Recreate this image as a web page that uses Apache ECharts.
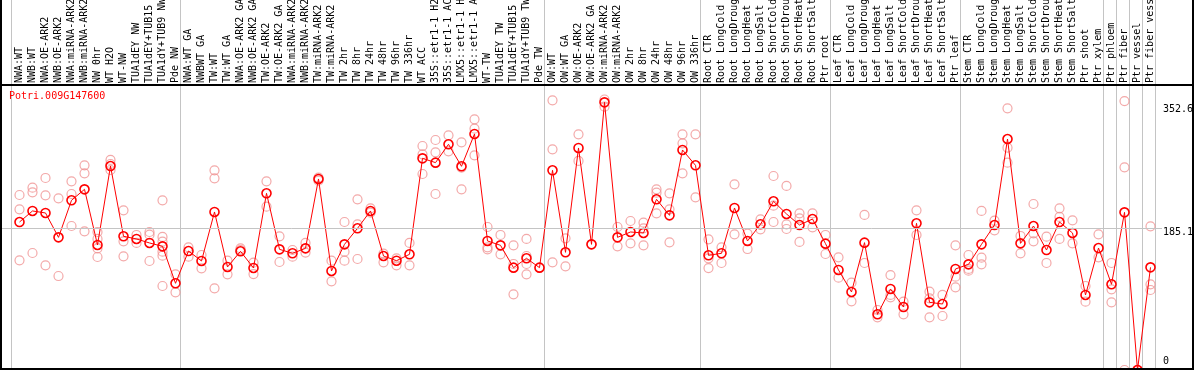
<!DOCTYPE html>
<html><head><meta charset="utf-8">
<script src="https://cdn.jsdelivr.net/npm/echarts@6/dist/echarts.min.js"></script>
<style>html,body{margin:0;padding:0;background:#fff}#c{width:1194px;height:370px}</style>
</head><body><div id="c"></div>
<script>
const geneName = 'Potri.009G147600';

const categories = [
  'NWA:WT','NWB:WT','NWA:OE-ARK2','NWB:OE-ARK2','NWA:miRNA-ARK2','NWB:miRNA-ARK2','NW 0hr','WT H2O','WT-NW','TUA1dEY NW','TUA1dEY+TUB15 NW','TUA1dY+TUB9 NW','Pde NW',
  'NWA:WT GA','NWBWT GA','TW:WT','TW:WT GA','NWA:OE-ARK2 GA','NWB:OE-ARK2 GA','TW:OE-ARK2','TW:OE-ARK2 GA','NWA:miRNA-ARK2 GA','NWB:miRNA-ARK2 GA','TW:miRNA-ARK2','TW:miRNA-ARK2 GA','TW 2hr','TW 8hr','TW 24hr','TW 48hr','TW 96hr','TW 336hr','WT ACC','35S::etr1-1 H2O','35S::etr1-1 ACC','LMX5::etr1-1 H2O','LMX5::etr1-1 ACC','WT-TW','TUA1dEY TW','TUA1dEY+TUB15 TW','TUA1dY+TUB9 TW','Pde TW',
  'OW:WT','OW:WT GA','OW:OE-ARK2','OW:OE-ARK2 GA','OW:miRNA-ARK2','OW:miRNA-ARK2 GA','OW 2hr','OW 8hr','OW 24hr','OW 48hr','OW 96hr','OW 336hr',
  'Root CTR','Root LongCold','Root LongDrought','Root LongHeat','Root LongSalt','Root ShortCold','Root ShortDrought','Root ShortHeat','Root ShortSalt','Ptr root',
  'Leaf CTR','Leaf LongCold','Leaf LongDrought','Leaf LongHeat','Leaf LongSalt','Leaf ShortCold','Leaf ShortDrought','Leaf ShortHeat','Leaf ShortSalt','Ptr leaf',
  'Stem CTR','Stem LongCold','Stem LongDrought','Stem LongHeat','Stem LongSalt','Stem ShortCold','Stem ShortDrought','Stem ShortHeat','Stem ShortSalt','Ptr shoot','Ptr xylem',
  'Ptr phloem','Ptr fiber','Ptr vessel','Ptr fiber vessel'
];

// first category index of each sample group (separator lines)
const groupStarts = [0, 13, 41, 53, 63, 73, 84, 85, 86, 87];

const means = [
  192.9, 207.3, 204.7, 172.9, 221.2, 235.5, 163.0, 265.9, 174.3, 170.8, 165.6, 161.2, 113.0,
  155.1, 142.1, 206.0, 134.3, 154.7, 133.0, 230.3, 157.3, 152.1, 158.6, 249.0, 129.1, 163.8, 184.7, 207.3, 148.6, 142.5, 150.8, 275.9, 270.3, 294.2, 265.5, 307.7, 168.2, 162.5, 133.4, 145.6, 133.4,
  260.3, 153.4, 289.4, 163.8, 348.9, 172.9, 179.9, 178.6, 222.5, 201.6, 286.8, 266.8,
  149.5, 152.1, 211.2, 168.2, 189.9, 219.9, 203.4, 189.0, 196.8, 164.7,
  130.4, 101.7, 166.0, 72.6, 105.6, 82.1, 191.2, 88.2, 86.0, 131.7,
  137.7, 163.8, 189.0, 301.1, 165.1, 187.7, 156.4, 192.9, 178.6, 97.8, 159.0,
  111.7, 205.5, 0, 133.8
];

const replicates = [
  [228.1, 209.4, 143.0], [237.7, 231.6, 152.5], [250.3, 227.7, 136.4], [223.8, 122.5], [245.9, 229.4, 187.7],
  [266.8, 256.4, 180.8], [179.9, 170.8, 158.6, 147.3], [273.8, 268.5, 260.7], [208.1, 167.7, 148.2], [176.0, 165.6],
  [179.9, 176.4, 142.1], [221.2, 173.4, 167.3, 154.3, 149.0, 109.5], [124.7, 101.2],
  [159.9, 147.7], [149.9, 132.5], [260.3, 249.9, 106.5], [142.5, 124.7], [158.6, 156.4], [139.9, 125.1],
  [245.9, 212.9], [174.3, 140.8], [156.4, 147.7], [165.6, 153.0], [250.7, 246.8], [142.5, 115.6],
  [192.9, 154.3, 142.5], [222.5, 189.9, 144.7], [210.8, 205.1], [151.7, 140.4], [145.6, 136.4], [165.6, 136.4],
  [292.0, 281.1, 255.5], [299.8, 283.8, 229.4], [305.9, 285.1], [296.8, 263.8, 235.5], [326.8, 314.6, 279.8],
  [186.4, 159.9, 157.3], [176.0, 150.8], [162.5, 138.2, 98.6], [170.8, 148.6, 138.2, 124.7], [133.4],
  [351.5, 287.7, 140.4], [171.6, 135.1], [307.2, 272.5], [163.8], [352.6, 343.3], [186.4, 161.2],
  [194.2, 165.1], [192.1, 184.7, 162.5], [235.5, 231.2, 204.2], [230.3, 209.4, 166.4], [307.2, 295.5, 256.4], [307.2, 225.1],
  [170.3, 145.6, 132.9], [159.9, 139.5], [242.0, 176.9], [177.7, 157.7], [196.4, 183.4],
  [252.9, 214.2, 192.9], [239.9, 189.9, 183.8], [204.2, 197.7, 166.9], [204.2, 186.0], [176.0, 151.2],
  [146.9, 120.4], [113.8, 89.5], [202.1, 139.5], [78.2, 68.7], [123.8, 97.8, 94.7],
  [89.1, 72.6], [208.1, 176.0], [102.1, 93.4, 68.7], [97.8, 70.4], [162.5, 121.7, 107.8],
  [149.9, 131.7, 129.5], [207.3, 146.4, 137.7], [194.7, 182.1], [341.1, 289.8, 270.3], [174.7, 152.1],
  [216.4, 178.2, 167.7], [173.8, 139.5], [210.8, 199.5, 170.8], [195.1, 165.1], [109.5, 89.1], [176.9, 146.9],
  [139.5, 105.2, 88.2], [350.5, 264.2, 0], [0, 0, 0], [187.3, 111.7, 104.3]
];

const yTickValues = [0, 185.1, 352.6];
const yTickLabels = ['0', '185.1', '352.6'];
const yMin = 0, yMax = 371.5;

const FONT = 'DejaVu Sans Mono';
const RED = '#ff0000';
const PINK = '#f09494';
const GRAY = '#c4c4c4';

const repData = [];
replicates.forEach((arr, i) => arr.forEach(v => repData.push([i, v])));

const chart = echarts.init(document.getElementById('c'), null, {renderer: 'canvas'});
chart.setOption({
  animation: false,
  backgroundColor: '#fff',
  title: {
    text: geneName, left: 9, top: 91, padding: 0, z: 20,
    textStyle: {fontFamily: FONT, fontSize: 10, fontWeight: 'normal', color: RED}
  },
  grid: [
    {left: 11, width: 1144, top: 0, bottom: 0, containLabel: false, outerBoundsMode: 'none'},
    {left: 13, width: 1144, top: 85, height: 285, containLabel: false, outerBoundsMode: 'none'},
    {left: 1, right: 32, top: 85, height: 285, containLabel: false, outerBoundsMode: 'none'}
  ],
  xAxis: [
    {
      gridIndex: 0, type: 'category', data: categories, boundaryGap: true,
      axisLine: {show: false}, axisTick: {show: false}, axisLabel: {show: false},
      splitLine: {show: true, interval: (idx) => groupStarts.indexOf(idx) >= 0,
                  lineStyle: {color: GRAY, width: 1}}
    },
    {
      gridIndex: 1, type: 'category', data: categories, boundaryGap: true, position: 'top',
      axisLine: {show: false}, axisTick: {show: false}, splitLine: {show: false},
      axisLabel: {interval: 0, rotate: 90, margin: 2, fontFamily: FONT, fontSize: 10, color: '#000', hideOverlap: false}
    },
    {gridIndex: 2, type: 'value', min: 0, max: 1, show: false}
  ],
  yAxis: [
    {gridIndex: 0, type: 'value', show: false},
    {gridIndex: 1, type: 'value', min: yMin, max: yMax, show: false},
    {
      gridIndex: 2, type: 'value', min: yMin, max: yMax, position: 'right',
      axisLine: {show: false}, splitLine: {show: false},
      axisTick: {show: false, customValues: yTickValues},
      axisLabel: {
        customValues: yTickValues, margin: 1, fontFamily: FONT, fontSize: 10, color: '#000',
        verticalAlign: 'middle', showMinLabel: true, showMaxLabel: true,
        formatter: (v) => {
          const k = yTickValues.findIndex(t => Math.abs(t - v) < 1e-6);
          return '{t' + k + '|' + yTickLabels[k] + '}';
        },
        rich: {
          t0: {fontFamily: FONT, fontSize: 10, color: '#000', padding: [0, 0, 17, 0]},
          t1: {fontFamily: FONT, fontSize: 10, color: '#000', padding: [9, 0, 0, 0]},
          t2: {fontFamily: FONT, fontSize: 10, color: '#000', padding: [20, 0, 0, 0]}
        }
      }
    }
  ],
  series: [
    {
      type: 'scatter', xAxisIndex: 2, yAxisIndex: 2, data: [], silent: true,
      markLine: {
        silent: true, symbol: ['none', 'none'], label: {show: false},
        lineStyle: {color: GRAY, type: 'solid', width: 1},
        data: [{yAxis: yTickValues[1]}]
      }
    },
    {
      type: 'scatter', xAxisIndex: 1, yAxisIndex: 1, data: repData, z: 3,
      symbol: 'circle', symbolSize: 9,
      itemStyle: {color: 'rgba(0,0,0,0)', borderColor: PINK, borderWidth: 1.2}
    },
    {
      type: 'line', xAxisIndex: 1, yAxisIndex: 1, data: means, z: 4,
      showAllSymbol: true, symbol: 'circle', symbolSize: 9,
      lineStyle: {color: RED, width: 1},
      itemStyle: {color: 'rgba(0,0,0,0)', borderColor: RED, borderWidth: 1.6}
    }
  ],
  graphic: [
    {type: 'line', shape: {x1: 0, y1: 85, x2: 1194, y2: 85}, style: {stroke: '#000', lineWidth: 2}, z: 10},
    {type: 'line', shape: {x1: 1, y1: 0, x2: 1, y2: 370}, style: {stroke: '#000', lineWidth: 2}, z: 10},
    {type: 'line', shape: {x1: 1193, y1: 0, x2: 1193, y2: 370}, style: {stroke: '#000', lineWidth: 2}, z: 10},
    {type: 'line', shape: {x1: 0, y1: 369, x2: 1194, y2: 369}, style: {stroke: '#000', lineWidth: 2}, z: 10}
  ]
});
</script>
</body></html>
